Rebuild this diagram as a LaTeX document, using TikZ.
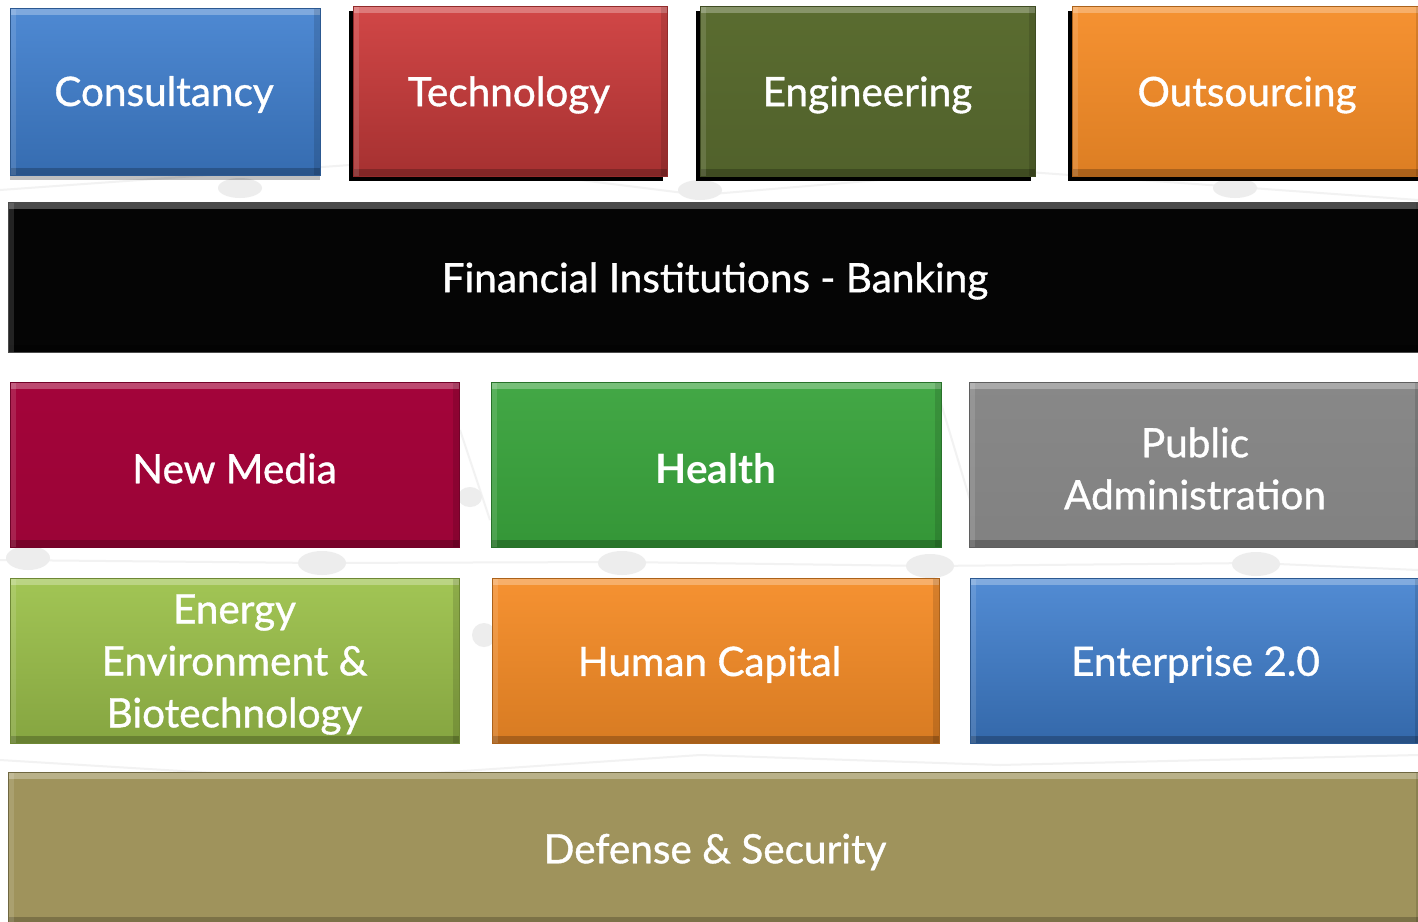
\documentclass[tikz,border=0pt]{standalone}
\usepackage{fontspec}
\setmainfont{Lato}[UprightFeatures={FakeBold=0.9}]
\usetikzlibrary{shadows}
\tikzset{
  box/.style={anchor=north west, inner sep=0pt, outer sep=0pt, draw=#1!70!black, line width=1pt,
    path picture={
      \fill[white,opacity=.28] (path picture bounding box.north west) rectangle ([yshift=-7pt]path picture bounding box.north east);
      \fill[black,opacity=.22] (path picture bounding box.south west) rectangle ([yshift=7pt]path picture bounding box.south east);
      \fill[white,opacity=.12] (path picture bounding box.north west) rectangle ([xshift=6pt]path picture bounding box.south west);
      \fill[black,opacity=.12] (path picture bounding box.north east) rectangle ([xshift=-6pt]path picture bounding box.south east);
    }},
  txt/.style={text=white, align=center, inner sep=0pt, font=\fontsize{40.5}{52}\selectfont},
  hardshadow/.style={drop shadow={shadow xshift=-4pt, shadow yshift=-5pt, fill=black, opacity=1}},
  softshadow/.style={drop shadow={shadow xshift=0pt, shadow yshift=-5pt, fill=black, opacity=.25}},
  bgline/.style={draw=black!5, line width=2pt},
  blob/.style={fill=black!7}
}
\definecolor{cblue}{HTML}{3F7FCF}
\definecolor{cred}{HTML}{CF3D3D}
\definecolor{colive}{HTML}{5A6C30}
\definecolor{corange}{HTML}{F58C27}
\definecolor{ccrimson}{HTML}{A3043A}
\definecolor{cgreen}{HTML}{39A33C}
\definecolor{cgrey}{HTML}{888888}
\definecolor{clime}{HTML}{9DC24C}
\definecolor{ckhaki}{HTML}{9F935C}
\definecolor{cdark}{HTML}{6A6A6A}
\begin{document}
\begin{tikzpicture}[x=1pt,y=-1pt]
\fill[white] (0,0) rectangle (1418,921);
\useasboundingbox (0,0) rectangle (1418,921);
% faint background network
\draw[bgline] (0,190) -- (420,160) -- (700,195) -- (1000,170) -- (1418,200);
\draw[bgline] (0,560) -- (320,563) -- (620,562) -- (930,566) -- (1255,563) -- (1418,570);
\draw[bgline] (0,760) -- (330,780) -- (700,755) -- (1000,765) -- (1418,755);
\draw[bgline] (460,430) -- (490,520);
\draw[bgline] (940,400) -- (970,500);
\fill[blob] (28,558) ellipse (22 and 12);
\fill[blob] (322,563) ellipse (24 and 12);
\fill[blob] (622,563) ellipse (24 and 12);
\fill[blob] (930,566) ellipse (24 and 12);
\fill[blob] (1256,564) ellipse (24 and 12);
\fill[blob] (470,497) ellipse (12 and 10);
\fill[blob] (484,635) ellipse (12 and 12);
\fill[blob] (1235,188) ellipse (22 and 10);
\fill[blob] (700,190) ellipse (22 and 10);
\fill[blob] (240,188) ellipse (22 and 10);
% boxes
\node[box=cblue, softshadow, top color=cblue!92!white, bottom color=cblue!85!black, minimum width=310, minimum height=167] (consult) at (10,8) {};
\node[box=cred, hardshadow, top color=cred!95!white, bottom color=cred!80!black, minimum width=314, minimum height=170] (tech) at (353,6) {};
\node[box=colive, hardshadow, top color=colive, bottom color=colive!90!black, minimum width=335, minimum height=170] (eng) at (700,6) {};
\node[box=corange, hardshadow, top color=corange!95!white, bottom color=corange!90!black, minimum width=350, minimum height=170] (out) at (1072,6) {};
\node[box=cdark, fill=black!98, minimum width=1414, minimum height=150] (fin) at (8,202) {};
\node[box=ccrimson, top color=ccrimson, bottom color=ccrimson!95!black, minimum width=449, minimum height=165] (media) at (10,382) {};
\node[box=cgreen, top color=cgreen!95!white, bottom color=cgreen!92!black, minimum width=450, minimum height=165] (health) at (491,382) {};
\node[box=cgrey, top color=cgrey, bottom color=cgrey!95!black, minimum width=452, minimum height=165] (public) at (969,382) {};
\node[box=clime, top color=clime!95!white, bottom color=clime!85!black, minimum width=449, minimum height=165] (energy) at (10,578) {};
\node[box=corange, top color=corange!95!white, bottom color=corange!88!black, minimum width=447, minimum height=165] (human) at (492,578) {};
\node[box=cblue, top color=cblue!90!white, bottom color=cblue!82!black, minimum width=451, minimum height=165] (ent) at (970,578) {};
\node[box=ckhaki, fill=ckhaki, minimum width=1414, minimum height=152] (def) at (8,772) {};
% texts
\node[txt] (tconsult) at ([xshift=-1pt,yshift=-3pt]consult.center) {Consultancy};
\node[txt] (ttech) at ([xshift=-1pt,yshift=-4pt]tech.center) {Technology};
\node[txt] (teng) at ([yshift=-4pt]eng.center) {Engineering};
\node[txt] (tout) at ([yshift=-4pt]out.center) {Outsourcing};
\node[txt] (tfin) at ([yshift=-4pt]fin.center) {Financial Institutions - Banking};
\node[txt] (tmedia) at ([yshift=-4pt]media.center) {New Media};
\node[txt, font=\bfseries\fontsize{40.5}{52}\selectfont] (thealth) at ([yshift=-4pt]health.center) {Health};
\node[txt] (tpublic) at ([yshift=-4pt]public.center) {Public\\Administration};
\node[txt] (tenergy) at ([yshift=-4pt]energy.center) {Energy\\Environment \&\\Biotechnology};
\node[txt] (thuman) at ([xshift=-6pt,yshift=-4pt]human.center) {Human Capital};
\node[txt] (tent) at ([yshift=-4pt]ent.center) {Enterprise 2.0};
\node[txt] (tdef) at ([yshift=-4pt]def.center) {Defense \& Security};
\end{tikzpicture}
\end{document}
